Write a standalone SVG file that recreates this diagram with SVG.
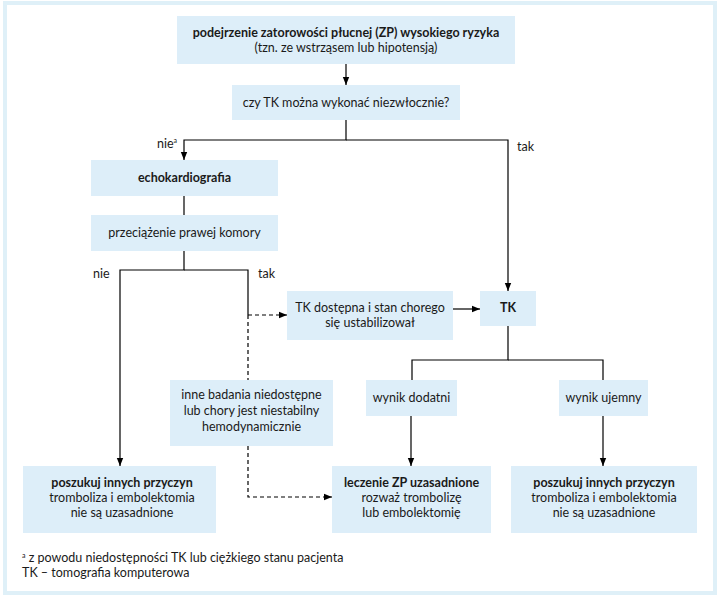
<svg xmlns="http://www.w3.org/2000/svg" width="717" height="596" viewBox="0 0 717 596">
<defs>
<marker id="arr" markerUnits="userSpaceOnUse" markerWidth="8" markerHeight="8" refX="8" refY="4" orient="auto">
<path d="M0,0.8 L8,4 L0,7.2 z" fill="#000"/>
</marker>
<style>
.box{fill:#ddeef9;}
.t{font-family:Lato,"Open Sans","Noto Sans",sans-serif;font-size:12.5px;fill:#1a1a1a;text-anchor:middle;}
.b{font-weight:bold;}
.l{font-family:Lato,"Open Sans","Noto Sans",sans-serif;font-size:12.5px;fill:#1a1a1a;}
.c{fill:none;stroke:#000;stroke-width:1.2;}
.d{fill:none;stroke:#000;stroke-width:1.2;stroke-dasharray:4,3;}
</style>
</defs>
<rect x="5" y="3" width="710" height="590" fill="#ffffff" stroke="#dff0f8" stroke-width="4"/>

<g id="connectors">
<path class="c" d="M346,64 V85" marker-end="url(#arr)"/>
<path class="c" d="M346,120 V140 H184 V160" marker-end="url(#arr)"/>
<path class="c" d="M346,140 H508 V291" marker-end="url(#arr)"/>
<path class="c" d="M184,196 V215"/>
<path class="c" d="M184,251 V270 H120 V466" marker-end="url(#arr)"/>
<path class="c" d="M184,270 H248 V315"/>
<path class="d" d="M248,315 H287" marker-end="url(#arr)"/>
<path class="d" d="M248,315 V380"/>
<path class="d" d="M248,446 V497 H332" marker-end="url(#arr)"/>
<path class="c" d="M453,309 H480" marker-end="url(#arr)"/>
<path class="c" d="M508,326 V360 H412 V380"/>
<path class="c" d="M508,360 H603 V380"/>
<path class="c" d="M411,416 V466" marker-end="url(#arr)"/>
<path class="c" d="M603,416 V466" marker-end="url(#arr)"/>
</g>

<g id="labels">
<text class="l" x="157" y="148">nie<tspan font-size="7" dy="-5">a</tspan></text>
<text class="l" x="517" y="151">tak</text>
<text class="l" x="93" y="278">nie</text>
<text class="l" x="258" y="278">tak</text>
</g>

<g id="n-top">
<rect class="box" x="177" y="16" width="338" height="48"/>
<text class="t b" x="346" y="37">podejrzenie zatorowości płucnej (ZP) wysokiego ryzyka</text>
<text class="t" x="346" y="52">(tzn. ze wstrząsem lub hipotensją)</text>
</g>

<g id="n-czy">
<rect class="box" x="232" y="85" width="228" height="35"/>
<text class="t" x="346" y="107">czy TK można wykonać niezwłocznie?</text>
</g>

<g id="n-echo">
<rect class="box" x="91" y="160" width="187" height="36"/>
<text class="t b" x="184.5" y="182">echokardiografia</text>
</g>

<g id="n-przec">
<rect class="box" x="91" y="215" width="187" height="36"/>
<text class="t" x="184.5" y="237">przeciążenie prawej komory</text>
</g>

<g id="n-dostepna">
<rect class="box" x="287" y="291" width="166" height="49"/>
<text class="t" x="370" y="312">TK dostępna i stan chorego</text>
<text class="t" x="370" y="327">się ustabilizował</text>
</g>

<g id="n-tk">
<rect class="box" x="480" y="291" width="56" height="35"/>
<text class="t b" x="508" y="312">TK</text>
</g>

<g id="n-dodatni">
<rect class="box" x="366" y="380" width="91" height="36"/>
<text class="t" x="411.5" y="402">wynik dodatni</text>
</g>

<g id="n-ujemny">
<rect class="box" x="559" y="380" width="89" height="36"/>
<text class="t" x="603.5" y="402">wynik ujemny</text>
</g>

<g id="n-inne">
<rect class="box" x="170" y="380" width="163" height="66"/>
<text class="t" x="251.5" y="399">inne badania niedostępne</text>
<text class="t" x="251.5" y="415">lub chory jest niestabilny</text>
<text class="t" x="251.5" y="431">hemodynamicznie</text>
</g>

<g id="n-poszukuj-left">
<rect class="box" x="23" y="466" width="193" height="67"/>
<text class="t b" x="122" y="487">poszukuj innych przyczyn</text>
<text class="t" x="122" y="502">tromboliza i embolektomia</text>
<text class="t" x="122" y="517">nie są uzasadnione</text>
</g>

<g id="n-leczenie">
<rect class="box" x="332" y="466" width="159" height="67"/>
<text class="t b" x="411.5" y="487">leczenie ZP uzasadnione</text>
<text class="t" x="411.5" y="502">rozważ trombolizę</text>
<text class="t" x="411.5" y="517">lub embolektomię</text>
</g>

<g id="n-poszukuj-right">
<rect class="box" x="511" y="466" width="186" height="67"/>
<text class="t b" x="604" y="487">poszukuj innych przyczyn</text>
<text class="t" x="604" y="502">tromboliza i embolektomia</text>
<text class="t" x="604" y="517">nie są uzasadnione</text>
</g>

<g id="footnote">
<text class="l" x="22" y="562"><tspan font-size="7" dy="-4">a</tspan><tspan dy="4"> z powodu niedostępności TK lub ciężkiego stanu pacjenta</tspan></text>
<text class="l" x="22" y="577">TK – tomografia komputerowa</text>
</g>
</svg>
